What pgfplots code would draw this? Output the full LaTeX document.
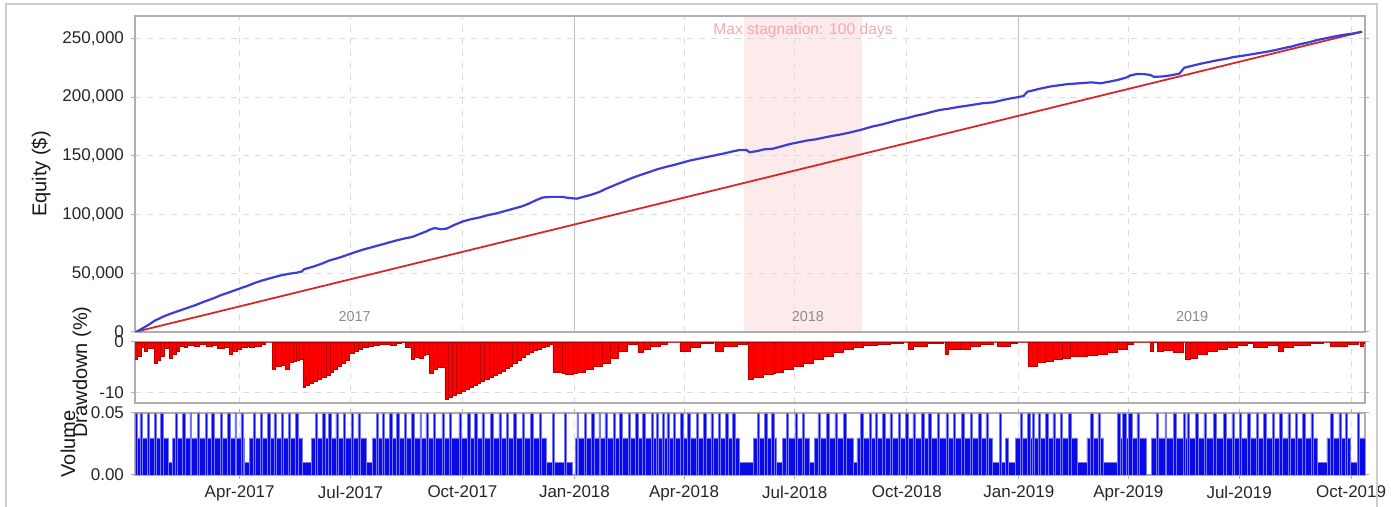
\documentclass[border=0pt]{standalone}
\usepackage{pgfplots}
\pgfplotsset{compat=1.18}
\usepackage{fontspec}
\setmainfont{Liberation Sans}
\definecolor{eqblue}{RGB}{60,60,215}
\definecolor{eqred}{RGB}{215,40,40}
\definecolor{stag}{RGB}{253,234,234}
\definecolor{stagtxt}{RGB}{240,170,175}
\definecolor{framegray}{RGB}{205,205,205}
\definecolor{axgray}{RGB}{175,175,175}
\definecolor{gridgray}{RGB}{220,220,220}
\definecolor{yeargray}{RGB}{140,140,140}
\definecolor{ddred}{RGB}{255,0,0}
\definecolor{ddedge}{RGB}{185,0,0}
\definecolor{volblue}{RGB}{10,10,230}
\definecolor{voledge}{RGB}{120,120,250}
\pgfplotsset{
 panel/.style={scale only axis, width=615pt, xmin=4, xmax=1014.4,
  axis line style={axgray, line width=0.7pt},
  grid=major, major grid style={gridgray, dashed, line width=0.4pt},
  xtick={90,181,273,365,455,546,638,730,820,911,1003},
  tick style={axgray, line width=0.5pt}, tick align=outside, major tick length=2pt,
  ticklabel style={font=\fontsize{8.5}{10}\selectfont, text=black!85},
  /pgf/number format/assume math mode=true,
  anchor=south west},
}
\begin{document}
\begin{tikzpicture}
% ---------- equity ----------
\begin{axis}[panel, set layers, at={(67.5pt,87.5pt)}, height=158pt,
  ymin=0, ymax=269000, ytick={0,50000,100000,150000,200000,250000},
  scaled y ticks=false,
  /pgf/number format/fixed, /pgf/number format/precision=0, /pgf/number format/1000 sep={,},
  xticklabels={}, xtick style={draw=none}]
\addplot[fill=stag, draw=none, on layer=axis background] coordinates {(504,0)(504,269000)(601,269000)(601,0)} -- cycle;
\addplot[axgray!80, line width=0.5pt] coordinates {(365,0)(365,269000)};
\addplot[axgray!80, line width=0.5pt] coordinates {(730,0)(730,269000)};
\addplot[eqred, line width=0.9pt] coordinates {(4,0)(1012,255600)};
\addplot[eqblue, line width=1.1pt] coordinates {
(5,0)(10,3000)(15,6000)(20,9500)(27,13000)(33,15500)(40,18000)(47,20500)(54,23000)(60,25500)
(68,28500)(75,31500)(82,34000)(90,37000)(97,39500)(103,42000)(109,44000)(116,46000)(123,48000)
(130,49500)(137,50500)(141,51500)(143,53500)(150,55500)(157,58000)(164,61000)(171,63000)
(178,65500)(185,68000)(191,70000)(198,72000)(205,74000)(212,76000)(219,78000)(225,79500)
(232,81000)(238,83500)(243,85500)(246,87000)(250,88500)(255,87500)(260,88000)(266,91000)
(273,94000)(280,96000)(287,97500)(294,99500)(301,101000)(308,103000)(315,105000)(322,107000)
(328,109500)(333,112000)(339,114500)(345,115000)(355,115000)(361,114000)(367,113500)(372,115000)
(378,116600)(385,119000)(391,122000)(398,125000)(405,128000)(412,131000)(419,133600)(426,136000)
(433,138500)(440,140500)(446,142000)(453,144000)(460,146000)(467,147500)(474,149000)(481,150500)
(488,152000)(494,153500)(501,155000)(506,155000)(509,153000)(515,154000)(521,155500)(528,156000)
(535,158000)(542,160000)(549,161500)(556,163000)(563,164000)(570,165500)(577,167000)(583,168000)
(590,169500)(596,171000)(600,172000)(605,173500)(610,175000)(617,176500)(624,178500)(631,180500)
(638,182000)(645,184000)(652,185500)(659,187500)(665,189000)(672,190000)(680,191500)(690,193000)
(700,194700)(709,195500)(717,197500)(724,199000)(730,200000)(734,201000)(737,204500)(743,206000)
(749,207500)(756,209000)(763,210000)(770,211000)(777,211500)(783,212000)(790,212500)(797,211700)
(804,213000)(811,214500)(818,216500)(822,218500)(827,219600)(833,219500)(838,218800)(841,217200)
(848,217500)(855,218500)(862,220000)(866,225000)(872,226500)(880,228500)(887,230000)(894,231500)
(900,232500)(906,234000)(913,235000)(920,236200)(927,237400)(934,238600)(941,240000)(947,241500)
(954,243000)(961,245000)(968,246500)(975,248500)(982,250000)(989,251500)(996,252800)(1004,254000)
(1012,255600)};
\node[stagtxt, font=\fontsize{7.8}{9}\selectfont] at (axis cs:552.7,257000) {Max stagnation: 100 days};
\node[yeargray, font=\fontsize{7.2}{9}\selectfont] at (axis cs:184.5,12800) {2017};
\node[yeargray, font=\fontsize{7.2}{9}\selectfont] at (axis cs:556.8,12800) {2018};
\node[yeargray, font=\fontsize{7.2}{9}\selectfont] at (axis cs:872.3,12800) {2019};
\end{axis}
% ---------- drawdown ----------
\begin{axis}[panel, at={(67.5pt,52pt)}, height=30.5pt,
  ymin=-12, ymax=0, ytick={-10,0}, xticklabels={}, xtick style={draw=none}]
\addplot[ybar interval, fill=ddred, draw=ddedge, line width=0.25pt] coordinates {
(3.7,-3.4)(6.2,-2.8)(9.5,-1.0)(11.9,-1.8)(14.4,-1.2)(20.2,-4.1)(22.6,-3.5)(25.1,-2.8)(28.4,-1.2)
(32.5,-3.1)(34.9,-2.5)(38.2,-1.8)(40.7,-0.8)(44.8,-1.1)(47.3,-0.6)(53.0,-0.8)(57.1,-0.5)(62.9,-0.9)
(67.8,-0.6)(71.9,-1.2)(77.7,-1.0)(81.8,-2.4)(84.2,-1.8)(88.4,-1.4)(91.6,-1.0)(95.8,-0.8)(98.2,-1.1)
(102.3,-0.8)(108.1,-0.5)(111.4,0)(117.1,-5.4)(119.6,-4.8)(124.5,-4.6)(127.8,-5.3)(131.1,-4.0)
(133.6,-3.7)(136.8,-3.5)(139.3,-3.4)(141.8,-9.0)(144.2,-8.6)(147.5,-8.2)(150.8,-7.8)(154.1,-7.4)
(157.4,-7.0)(160.7,-6.6)(164.0,-6.0)(167.2,-5.4)(170.5,-4.8)(173.8,-4.2)(177.1,-3.6)(180.4,-2.2)
(183.7,-1.8)(187.0,-1.5)(190.3,-1.1)(195.2,-0.8)(200.1,-0.6)(205.0,-0.5)(209.2,-0.4)(213.3,-0.7)
(218.2,-0.3)(223.1,-0.1)(226.4,-1.1)(228.1,-1.0)(231.3,-3.4)(233.8,-3.0)(237.1,-3.1)(240.4,-2.6)
(242.8,-2.4)(246.1,-6.1)(248.6,-5.4)(251.9,-5.0)(255.2,-4.9)(258.5,-11.3)(261.7,-10.9)(265.0,-10.5)
(268.3,-10.1)(271.6,-9.7)(274.9,-9.3)(278.2,-9.0)(281.5,-8.6)(284.8,-8.2)(288.0,-7.7)(291.3,-7.4)
(294.6,-7.0)(297.9,-6.5)(301.2,-6.1)(304.5,-5.7)(307.8,-5.2)(311.1,-4.7)(314.3,-4.1)(317.6,-3.6)
(320.9,-3.0)(324.2,-2.4)(327.5,-2.0)(330.8,-1.6)(334.1,-1.4)(337.4,-1.1)(340.6,-0.8)(343.9,-0.5)
(347.2,-6.0)(354.6,-6.2)(357.1,-6.4)(363.6,-6.2)(366.9,-6.0)(373.5,-5.4)(380.1,-4.7)(387.5,-4.1)
(394.1,-3.1)(400.6,-1.8)(408.0,-0.5)(416.2,0)(417.1,-2.1)(421.2,-1.4)(426.9,-0.8)(435.1,-0.5)
(440.9,0)(451.6,-1.8)(459.8,-1.1)(468.0,-0.2)(478.7,0)(480.3,-1.8)(486.9,-0.8)(498.4,-0.4)(506.6,0)
(507.5,-7.4)(511.6,-7.0)(519.8,-6.4)(528.0,-6.2)(529.6,-6.0)(536.2,-5.4)(544.4,-4.7)(552.7,-4.1)
(560.9,-3.4)(569.1,-2.8)(577.3,-2.1)(585.5,-1.4)(593.7,-1.1)(602.0,-0.7)(613.5,-0.5)(624.1,-0.3)
(634.8,0)(638.9,-1.4)(643.0,-0.8)(654.6,-0.3)(667.7,0)(669.3,-2.4)(671.8,-1.4)(681.7,-1.4)
(689.9,-0.9)(698.1,-0.5)(708.8,0)(712.1,-0.8)(722.8,-0.3)(728.5,0)(737.5,-4.7)(744.9,-3.9)
(751.5,-3.7)(758.1,-3.4)(765.5,-3.1)(772.1,-2.9)(777.8,-2.8)(786.0,-2.6)(794.3,-2.4)(802.5,-2.0)
(810.7,-1.4)(818.9,-0.5)(823.8,0)(837.8,-1.8)(840.3,-0.1)(843.6,-1.8)(848.5,-1.6)(856.7,-2.0)
(864.9,0)(866.6,-3.4)(870.7,-3.1)(876.4,-2.4)(884.7,-1.8)(892.9,-1.4)(901.1,-1.1)(909.3,-0.7)
(917.5,-0.3)(922.4,-1.1)(933.9,-0.7)(942.1,0)(943.0,-1.8)(947.1,-1.1)(955.3,-0.6)(969.3,-0.3)
(980.0,0)(985.7,-0.8)(999.7,-0.5)(1008.7,0)(1010.3,-0.8)(1012.8,-0.2)(1014.4,0)};
\end{axis}
% ---------- volume ----------
\begin{axis}[panel, at={(67.5pt,16pt)}, height=31pt,
  ymin=0, ymax=0.05, ytick={0,0.05}, scaled y ticks=false,
  /pgf/number format/fixed, /pgf/number format/fixed zerofill, /pgf/number format/precision=2,
  xticklabels={Apr-2017,Jul-2017,Oct-2017,Jan-2018,Apr-2018,Jul-2018,Oct-2018,Jan-2019,Apr-2019,Jul-2019,Oct-2019}]
\addplot[ybar interval, fill=volblue, draw=voledge, line width=0.25pt] coordinates {
(4,0.05)(5.5,0.03)(8,0.05)(10,0.03)(14,0.05)(16,0.03)(20,0.05)(21.5,0.03)(25,0.05)(27,0.03)(31,0.01)
(35,0.03)(37,0.05)(38.5,0.03)(43,0.05)(45,0.03)(49,0.05)(50.5,0.03)(55,0.05)(57,0.03)(62,0.05)
(63.5,0.03)(67,0.05)(69,0.03)(74,0.05)(75.5,0.03)(80,0.05)(82,0.03)(86,0.05)(87.5,0.03)(91,0.05)
(93,0.03)(94,0.01)(98,0.03)(101,0.05)(103,0.03)(107,0.05)(108.5,0.03)(113,0.05)(115,0.03)(118,0.05)
(120,0.03)(124,0.05)(126,0.03)(130,0.05)(131.5,0.03)(136,0.05)(138,0.03)(141,0.01)(149,0.03)
(152,0.05)(154,0.03)(158,0.05)(160,0.03)(163,0.05)(165,0.03)(169,0.05)(171,0.03)(175,0.05)
(177,0.03)(182,0.05)(183.5,0.03)(187,0.05)(189,0.03)(194,0.01)(199,0.03)(202,0.05)(204,0.03)
(207,0.05)(209,0.03)(213,0.05)(215,0.03)(219,0.05)(221,0.03)(225,0.05)(227,0.03)(231,0.05)
(233,0.03)(238,0.05)(239.5,0.03)(243,0.05)(245,0.03)(249,0.05)(251,0.03)(256,0.05)(258,0.03)
(262,0.05)(264,0.03)(270,0.05)(272,0.03)(277,0.05)(279,0.03)(283,0.05)(285,0.03)(289,0.05)
(291,0.03)(296,0.05)(298,0.03)(303,0.05)(305,0.03)(309,0.05)(311,0.03)(315,0.05)(317,0.03)
(322,0.05)(324,0.03)(329,0.05)(331,0.03)(336,0.05)(338,0.03)(342,0.01)(347,0.05)(348.5,0.01)
(357,0.05)(358.5,0.01)(363,0)(366,0.03)(367,0.05)(368.5,0.03)(373,0.05)(375,0.03)(379,0.05)
(381,0.03)(385,0.05)(386.5,0.03)(390,0.05)(392,0.03)(397,0.05)(398.5,0.03)(402,0.05)(404,0.03)
(409,0.05)(410.5,0.03)(415,0.05)(417,0.03)(421,0.05)(423,0.03)(428,0.05)(430,0.03)(432,0.05)
(434,0.03)(437,0.05)(439,0.03)(441,0.05)(443,0.03)(446,0.05)(448,0.03)(452,0.05)(454,0.03)
(458,0.05)(460,0.03)(465,0.05)(466.5,0.03)(471,0.05)(473,0.03)(477,0.05)(479,0.03)(483,0.05)
(485,0.03)(489,0.05)(491,0.03)(495,0.05)(497,0.03)(500,0.01)(512,0.03)(515,0.05)(517,0.03)
(521,0.05)(523,0.03)(527,0.05)(529,0.03)(531,0.01)(536,0.03)(539,0.05)(541,0.03)(546,0.05)
(548,0.03)(552,0.05)(554,0.03)(558,0.01)(562,0.03)(565,0.05)(567,0.03)(572,0.05)(574,0.03)
(579,0.05)(581,0.03)(586,0.05)(588,0.03)(594,0.01)(597,0.03)(600,0.05)(602,0.03)(607,0.05)
(608.5,0.03)(612,0.05)(614,0.03)(618,0.05)(620,0.03)(624,0.05)(626,0.03)(631,0.05)(633,0.03)
(637,0.05)(639,0.03)(643,0.05)(645,0.03)(650,0.05)(652,0.03)(656,0.05)(658,0.03)(663,0.05)
(665,0.03)(670,0.05)(672,0.03)(676,0.05)(678,0.03)(683,0.05)(685,0.03)(690,0.05)(692,0.03)
(697,0.05)(699,0.03)(703,0.05)(705,0.03)(708,0.01)(714,0.05)(715.5,0.01)(719,0.03)(721,0.01)
(727,0.03)(731,0.05)(733,0.03)(737,0.05)(739,0.03)(741,0.05)(743,0.03)(746,0.05)(748,0.03)
(752,0.05)(754,0.03)(758,0.05)(760,0.03)(764,0.05)(766,0.03)(771,0.05)(773,0.03)(778,0.01)
(786,0.03)(789,0.05)(791,0.03)(795,0.05)(797,0.03)(799,0.01)(811,0.05)(813,0.03)(815,0.05)
(818,0.03)(820,0.05)(823,0.03)(827,0.05)(829,0.03)(835,0)(839,0.03)(843,0.05)(844.5,0.03)
(850,0.05)(851.5,0.03)(857,0.05)(859,0.03)(865,0.05)(867,0.03)(868,0.05)(870,0.03)(875,0.05)
(877,0.03)(882,0.05)(884,0.03)(890,0.05)(892,0.03)(898,0.05)(900,0.03)(905,0.05)(907,0.03)
(911,0.05)(913,0.03)(918,0.05)(920,0.03)(925,0.05)(927,0.03)(931,0.05)(933,0.03)(938,0.05)
(940,0.03)(944,0.05)(946,0.03)(951,0.05)(953,0.03)(957,0.05)(959,0.03)(963,0.05)(965,0.03)
(970,0.05)(972,0.03)(975,0.01)(983,0.03)(986,0.05)(988,0.03)(993,0.05)(995,0.03)(998,0.05)
(1000,0.03)(1002,0.01)(1008,0.05)(1010,0.03)(1014.4,0.03)};
\end{axis}
% ---------- axis titles ----------
\node[rotate=90, font=\fontsize{10}{12}\selectfont, text=black!90] at (20.5pt,166.5pt) {Equity (\$)};
\node[rotate=90, font=\fontsize{10}{12}\selectfont, text=black!90] at (41pt,67.5pt) {Drawdown (\%)};
\node[rotate=90, font=\fontsize{10}{12}\selectfont, text=black!90] at (34pt,31.5pt) {Volume};
\draw[framegray, line width=1pt] (3pt,-5pt) -- (3pt,251.5pt) -- (688.5pt,251.5pt) -- (688.5pt,-5pt);
\pgfresetboundingbox
\useasboundingbox (0,0) rectangle (695.5pt,253.5pt);
\end{tikzpicture}
\end{document}
